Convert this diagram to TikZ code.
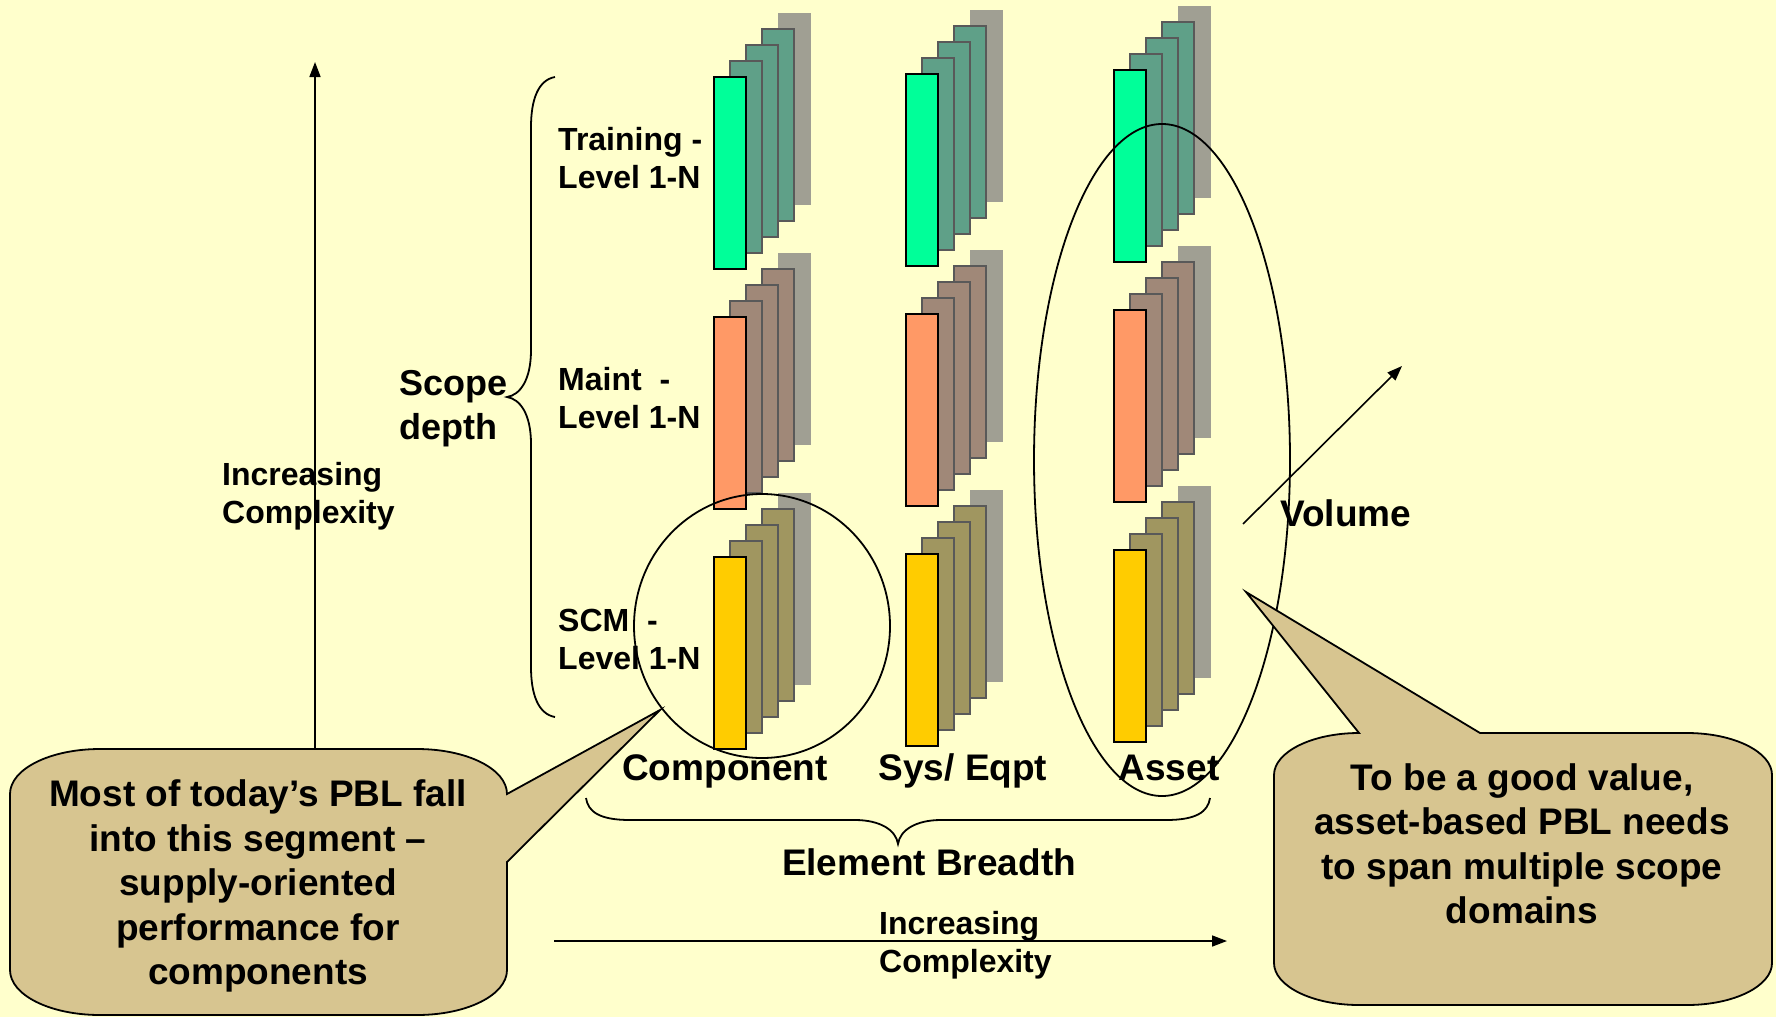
\documentclass[tikz,border=0pt]{standalone}
\usepackage{fontspec}
\setmainfont{Liberation Sans}
\usetikzlibrary{arrows.meta,shapes.geometric}
\definecolor{bgc}{HTML}{FFFFCC}
\definecolor{grnF}{HTML}{00FF99}
\definecolor{grnB}{HTML}{5FA088}
\definecolor{orgF}{HTML}{FF9966}
\definecolor{orgB}{HTML}{A08878}
\definecolor{yelF}{HTML}{FFCC00}
\definecolor{yelB}{HTML}{A09660}
\definecolor{shd}{HTML}{A09F93}
\definecolor{cfill}{HTML}{D7C590}
\newcommand\mystack[4]{%
  \fill[shd] ({#1+64},{#2-64}) rectangle ++(33,192);
  \foreach \k in {3,2,1}{%
    \filldraw[fill=#4, draw=black!65, line width=2pt] ({#1+16*\k},{#2-16*\k}) rectangle ++(32,192);}
  \filldraw[fill=#3, draw=black, line width=2pt] (#1,#2) rectangle ++(32,192);
}
\begin{document}
\begin{tikzpicture}[x=1pt,y=-1pt,
  lbl/.style={font=\bfseries\fontsize{32}{38}\selectfont, inner sep=0pt, align=left},
  big/.style={font=\bfseries\fontsize{37}{44.5}\selectfont, inner sep=0pt, align=center},
  arr/.style={line width=1.6pt, -{Triangle[length=15pt,width=11pt]}},
  ln/.style={line width=1.8pt},
  oval/.style={draw, line width=1.8pt, ellipse, inner sep=0pt},
  callout/.style={fill=cfill, draw=black, line width=1.8pt}]
\useasboundingbox (0,0) rectangle (1776,1017);
\fill[bgc] (0,0) rectangle (1776,1017);

% stacks
\mystack{714}{77}{grnF}{grnB}
\mystack{714}{317}{orgF}{orgB}
\mystack{714}{557}{yelF}{yelB}
\mystack{906}{74}{grnF}{grnB}
\mystack{906}{314}{orgF}{orgB}
\mystack{906}{554}{yelF}{yelB}
\mystack{1114}{70}{grnF}{grnB}
\mystack{1114}{310}{orgF}{orgB}
\mystack{1114}{550}{yelF}{yelB}

% ellipses
\node[oval, minimum width=256pt, minimum height=264pt] (segC) at (762,626) {};
\node[oval, minimum width=256pt, minimum height=672pt] (segA) at (1162,460) {};

% braces
\draw[ln] (555,77) .. controls (538,80) and (531,100) .. (531,127) -- (531,350)
  .. controls (531,380) and (520,395) .. (507,397)
  .. controls (520,399) and (531,414) .. (531,444) -- (531,667)
  .. controls (531,694) and (538,714) .. (555,717);
\draw[ln] (586,798) .. controls (588,812) and (600,820) .. (630,820) -- (855,820)
  .. controls (880,820) and (896,830) .. (898,844)
  .. controls (900,830) and (916,820) .. (941,820) -- (1166,820)
  .. controls (1196,820) and (1208,812) .. (1210,798);

% axes arrows
\coordinate (vA0) at (315,749);
\coordinate (vA1) at (315,62);
\draw[arr] (vA0) -- (vA1);
\coordinate (hA0) at (554,941);
\coordinate (hA1) at (1227,941);
\draw[arr] (hA0) -- (hA1);
\coordinate (vol0) at (1243,524);
\coordinate (vol1) at (1402,366);
\draw[arr] (vol0) -- (vol1);

% callouts
\draw[callout] (10,794) .. controls (10,769) and (50,749) .. (100,749) -- (417,749)
  .. controls (467,749) and (507,769) .. (507,794) -- (660,710) -- (507,862)
  -- (507,970) .. controls (507,995) and (467,1015) .. (417,1015) -- (100,1015)
  .. controls (50,1015) and (10,995) .. (10,970) -- cycle;
\draw[callout] (1274,775) .. controls (1274,752) and (1312,733) .. (1359,733)
  -- (1246,592) -- (1480,733) -- (1687,733)
  .. controls (1734,733) and (1772,752) .. (1772,775) -- (1772,963)
  .. controls (1772,986) and (1734,1005) .. (1687,1005) -- (1359,1005)
  .. controls (1312,1005) and (1274,986) .. (1274,963) -- cycle;

% texts
\node[lbl, anchor=west] (tr) at (558,158) {Training -\\Level 1-N};
\node[lbl, anchor=west] (mt) at (558,398) {Maint\ \ -\\Level 1-N};
\node[lbl, anchor=west] (scm) at (558,639) {SCM\ \ -\\Level 1-N};
\node[lbl, anchor=west] (incV) at (222,496) {Increasing\\Complexity};
\node[lbl, anchor=west] (incH) at (879,945) {Increasing\\Complexity};
\node[big, align=left, anchor=west, font=\bfseries\fontsize{36}{44}\selectfont] (scope) at (399,409) {Scope\\depth};
\node[big, anchor=base] (comp) at (725,780) {Component};
\node[big, anchor=base] (sys) at (963,780) {Sys/ Eqpt};
\node[big, anchor=base] (asset) at (1169,780) {Asset};
\node[big] (eb) at (929,862) {Element Breadth};
\node[big, anchor=west] (vol) at (1280,513) {Volume};
\node[big] (c1) at (258,886) {Most of today’s PBL fall\\into this segment –\\supply-oriented\\performance for\\components};
\node[big] (c2) at (1522,844) {To be a good value,\\asset-based PBL needs\\to span multiple scope\\domains};
\end{tikzpicture}
\end{document}
